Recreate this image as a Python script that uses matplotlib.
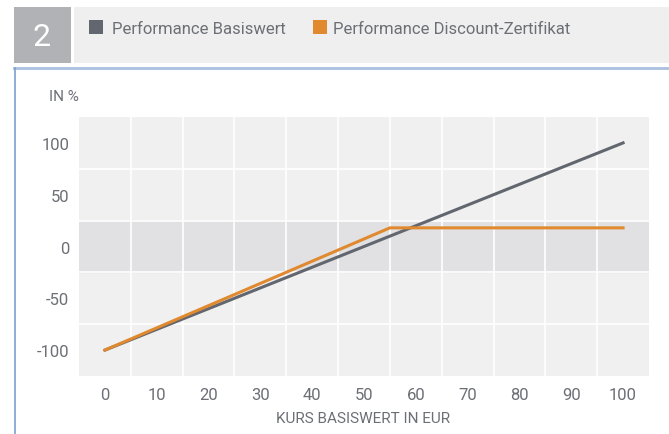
import matplotlib
matplotlib.use("Agg")
import matplotlib.pyplot as plt
from matplotlib.patches import Rectangle
from matplotlib.lines import Line2D
import numpy as np

# data
kurs = [0, 55, 100]
perf_basiswert = [-100, 10, 100]
perf_discount = [-100, 18, 18]
x_ticks = [0, 10, 20, 30, 40, 50, 60, 70, 80, 90, 100]
y_ticks = [-100, -50, 0, 50, 100]

legend_labels = ["Performance Basiswert", "Performance Discount-Zertifikat"]
col_grey = "#62666e"
col_orange = "#e0892f"
txt_col = "#6c6f75"

plt.rcParams['font.family'] = ["Roboto", "DejaVu Sans"]

W, H = 669, 435
fig = plt.figure(figsize=(W / 100, H / 100), dpi=100)


def fx(px):
    return px / W


def fy(py):
    return 1 - py / H


# header
fig.patches.append(Rectangle((fx(14), fy(64)), fx(57), 56 / H, transform=fig.transFigure,
                             facecolor="#b1b2b6", edgecolor="none"))
fig.patches.append(Rectangle((fx(74), fy(64)), fx(W - 74), 56 / H, transform=fig.transFigure,
                             facecolor="#efefef", edgecolor="none"))
fig.text(fx(42), fy(37), "2", color="white", fontsize=23, ha="center", va="center")

fig.patches.append(Rectangle((fx(89), fy(35)), fx(14), 14 / H, transform=fig.transFigure,
                             facecolor=col_grey, edgecolor="none"))
fig.text(fx(112), fy(29), legend_labels[0], color=txt_col, fontsize=12, ha="left", va="center")
fig.patches.append(Rectangle((fx(313), fy(35)), fx(14), 14 / H, transform=fig.transFigure,
                             facecolor=col_orange, edgecolor="none"))
fig.text(fx(333), fy(29), legend_labels[1], color=txt_col, fontsize=12, ha="left", va="center")

# blue frame lines
fig.lines.append(Line2D([fx(14), 1], [fy(69), fy(69)], transform=fig.transFigure,
                        color="#a9c0de", linewidth=2))
fig.lines.append(Line2D([fx(15), fx(15)], [fy(69), 0], transform=fig.transFigure,
                        color="#7c9fd2", linewidth=1.2))

# plot area
ax = fig.add_axes([fx(79), fy(377), fx(649 - 79), (377 - 118) / H])
ax.set_facecolor("#f0f0f0")
ax.axhspan(-25, 25, color="#e1e1e3", zorder=0)
ax.set_xlim(-5, 105)
ax.set_ylim(-125, 125)

ax.set_xticks(x_ticks)
ax.set_yticks(y_ticks)
ax.set_xticklabels([str(v) for v in x_ticks])
ax.set_yticklabels([str(v) for v in y_ticks])
ax.set_xticks(np.arange(5, 100, 10), minor=True)
ax.set_yticks([-75, -25, 25, 75], minor=True)
ax.grid(which="minor", color="white", linewidth=1.2)
ax.set_axisbelow(True)
ax.tick_params(which="both", length=0)
ax.tick_params(axis="y", pad=7, labelsize=12, labelcolor=txt_col)
ax.tick_params(axis="x", pad=8, labelsize=12, labelcolor=txt_col)
for s in ax.spines.values():
    s.set_visible(False)

ax.plot(kurs, perf_basiswert, color=col_grey, linewidth=2.2, zorder=3)
ax.plot(kurs, perf_discount, color=col_orange, linewidth=2.2, zorder=4)

fig.text(fx(49), fy(97), "IN %", color=txt_col, fontsize=11, ha="left", va="center")
fig.text(fx(363), fy(419), "KURS BASISWERT IN EUR", color=txt_col, fontsize=11, ha="center", va="center")

fig.savefig("out.png", dpi=100)
